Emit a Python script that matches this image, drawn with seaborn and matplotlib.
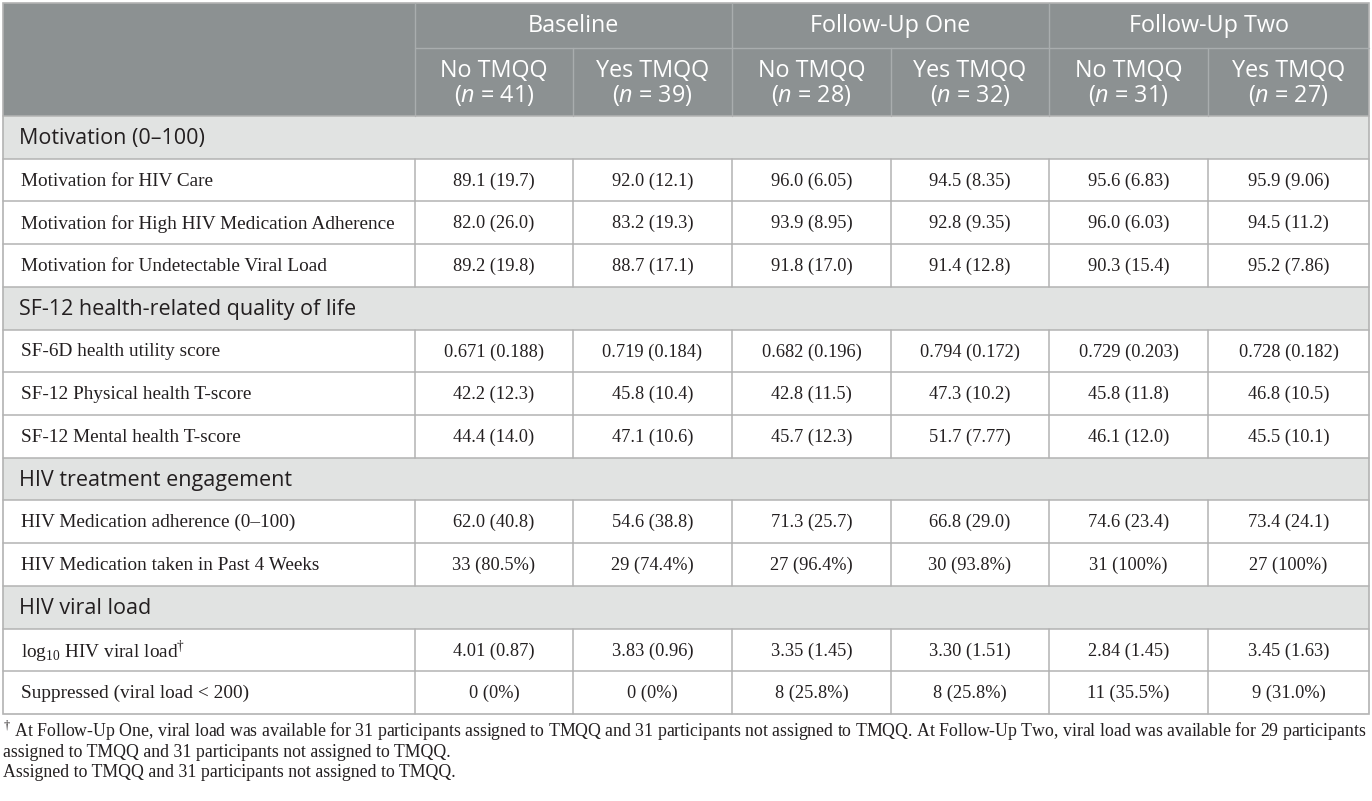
import matplotlib
matplotlib.use('Agg')
import matplotlib.pyplot as plt
import seaborn as sns
from matplotlib.patches import Rectangle

# ---------------------------------------------------------------------------
# DATA
groups = ['Baseline', 'Follow-Up One', 'Follow-Up Two']
arms = ['No TMQQ', 'Yes TMQQ']
n_sizes = [41, 39, 28, 32, 31, 27]

sections = ['Motivation (0–100)', 'SF-12 health-related quality of life',
            'HIV treatment engagement', 'HIV viral load']

motivation_rows = ['Motivation for HIV Care',
                   'Motivation for High HIV Medication Adherence',
                   'Motivation for Undetectable Viral Load']
motivation_vals = [
    ['89.1 (19.7)', '92.0 (12.1)', '96.0 (6.05)', '94.5 (8.35)', '95.6 (6.83)', '95.9 (9.06)'],
    ['82.0 (26.0)', '83.2 (19.3)', '93.9 (8.95)', '92.8 (9.35)', '96.0 (6.03)', '94.5 (11.2)'],
    ['89.2 (19.8)', '88.7 (17.1)', '91.8 (17.0)', '91.4 (12.8)', '90.3 (15.4)', '95.2 (7.86)'],
]

sf12_rows = ['SF-6D health utility score',
             'SF-12 Physical health T-score',
             'SF-12 Mental health T-score']
sf12_vals = [
    ['0.671 (0.188)', '0.719 (0.184)', '0.682 (0.196)', '0.794 (0.172)', '0.729 (0.203)', '0.728 (0.182)'],
    ['42.2 (12.3)', '45.8 (10.4)', '42.8 (11.5)', '47.3 (10.2)', '45.8 (11.8)', '46.8 (10.5)'],
    ['44.4 (14.0)', '47.1 (10.6)', '45.7 (12.3)', '51.7 (7.77)', '46.1 (12.0)', '45.5 (10.1)'],
]

engagement_rows = ['HIV Medication adherence (0–100)',
                   'HIV Medication taken in Past 4 Weeks']
engagement_vals = [
    ['62.0 (40.8)', '54.6 (38.8)', '71.3 (25.7)', '66.8 (29.0)', '74.6 (23.4)', '73.4 (24.1)'],
    ['33 (80.5%)', '29 (74.4%)', '27 (96.4%)', '30 (93.8%)', '31 (100%)', '27 (100%)'],
]

viral_rows = [r'log$_{10}$ HIV viral load$^{\dagger}$',
              'Suppressed (viral load < 200)']
viral_vals = [
    ['4.01 (0.87)', '3.83 (0.96)', '3.35 (1.45)', '3.30 (1.51)', '2.84 (1.45)', '3.45 (1.63)'],
    ['0 (0%)', '0 (0%)', '8 (25.8%)', '8 (25.8%)', '11 (35.5%)', '9 (31.0%)'],
]

footnotes = [
    r'$^{\dagger}$ At Follow-Up One, viral load was available for 31 participants assigned to TMQQ and '
    '31 participants not assigned to TMQQ. At Follow-Up Two, viral load was available for 29 participants',
    'assigned to TMQQ and 31 participants not assigned to TMQQ.',
    'Assigned to TMQQ and 31 participants not assigned to TMQQ.',
]

# ---------------------------------------------------------------------------
# STYLE / LAYOUT
sns.set_theme(style='white')
plt.rcParams['font.family'] = ['Liberation Serif', 'DejaVu Serif']
plt.rcParams['mathtext.fontset'] = 'custom'
plt.rcParams['mathtext.rm'] = 'Liberation Serif'
plt.rcParams['mathtext.it'] = 'Open Sans:italic'

HEAD_BG = '#8c9192'
HEAD_LINE = '#a9adae'
SECTION_BG = '#e1e3e2'
GRID = '#b3b3b3'
TXT = '#231f20'
SANS = 'Open Sans'

col_edges = [3, 415, 573, 732, 891, 1049, 1208, 1369]
head_top, head_mid, head_bot = 3, 48, 116
table_bot = 714

body = []  # (kind, label, values)
for sec, rows, vals in zip(sections,
                           [motivation_rows, sf12_rows, engagement_rows, viral_rows],
                           [motivation_vals, sf12_vals, engagement_vals, viral_vals]):
    body.append(('section', sec, None))
    for r, v in zip(rows, vals):
        body.append(('row', r, v))

row_h = (table_bot - head_bot) / len(body)

fig = plt.figure(figsize=(13.72, 8.01), dpi=100)
ax = fig.add_axes([0, 0, 1, 1])
ax.set_xlim(0, 1372)
ax.set_ylim(801, 0)
ax.axis('off')

x0, x1 = col_edges[0], col_edges[-1]

# header block
ax.add_patch(Rectangle((x0, head_top), x1 - x0, head_bot - head_top, color=HEAD_BG, lw=0))
for i, e in enumerate(col_edges[1:-1]):
    top = head_top if i % 2 == 0 else head_mid
    ax.plot([e, e], [top, head_bot], color=HEAD_LINE, lw=1.0)
ax.plot([col_edges[1], x1], [head_mid, head_mid], color=HEAD_LINE, lw=1.0)

for g, grp in enumerate(groups):
    cx = (col_edges[1 + 2 * g] + col_edges[3 + 2 * g]) / 2
    ax.text(cx, (head_top + head_mid) / 2 + 1, grp, ha='center', va='center',
            color='white', fontsize=16.8, family=SANS)

for c in range(6):
    cx = (col_edges[1 + c] + col_edges[2 + c]) / 2
    ax.text(cx, 71, arms[c % 2], ha='center', va='center', color='white',
            fontsize=16.8, family=SANS)
    ax.text(cx, 96, '($n$ = %d)' % n_sizes[c], ha='center', va='center', color='white',
            fontsize=16.8, family=SANS)

# body
for i, (kind, label, vals) in enumerate(body):
    top = head_bot + i * row_h
    cy = top + row_h / 2
    if kind == 'section':
        ax.add_patch(Rectangle((x0, top), x1 - x0, row_h, color=SECTION_BG, lw=0))
        ax.text(19, cy + 1, label, ha='left', va='center', color=TXT,
                fontsize=15.5, family=SANS)
    else:
        ax.text(21, cy + 1, label, ha='left', va='center', color=TXT, fontsize=13.9)
        for c, v in enumerate(vals):
            cx = (col_edges[1 + c] + col_edges[2 + c]) / 2
            ax.text(cx, cy + 1, v, ha='center', va='center', color=TXT, fontsize=13.2)
        for e in col_edges[1:-1]:
            ax.plot([e, e], [top, top + row_h], color=GRID, lw=1.1)
    if i > 0:
        ax.plot([x0, x1], [top, top], color=GRID, lw=1.1)

# outer frame
ax.add_patch(Rectangle((x0, head_top), x1 - x0, table_bot - head_top, fill=False,
                       edgecolor=GRID, lw=1.2))
ax.plot([x0, x1], [head_bot, head_bot], color=GRID, lw=1.1)

# footnotes
for k, line in enumerate(footnotes):
    ax.text(3, 737 + 20 * k, line, ha='left', va='baseline', color=TXT, fontsize=12.8)

fig.savefig('out.png', dpi=100)
